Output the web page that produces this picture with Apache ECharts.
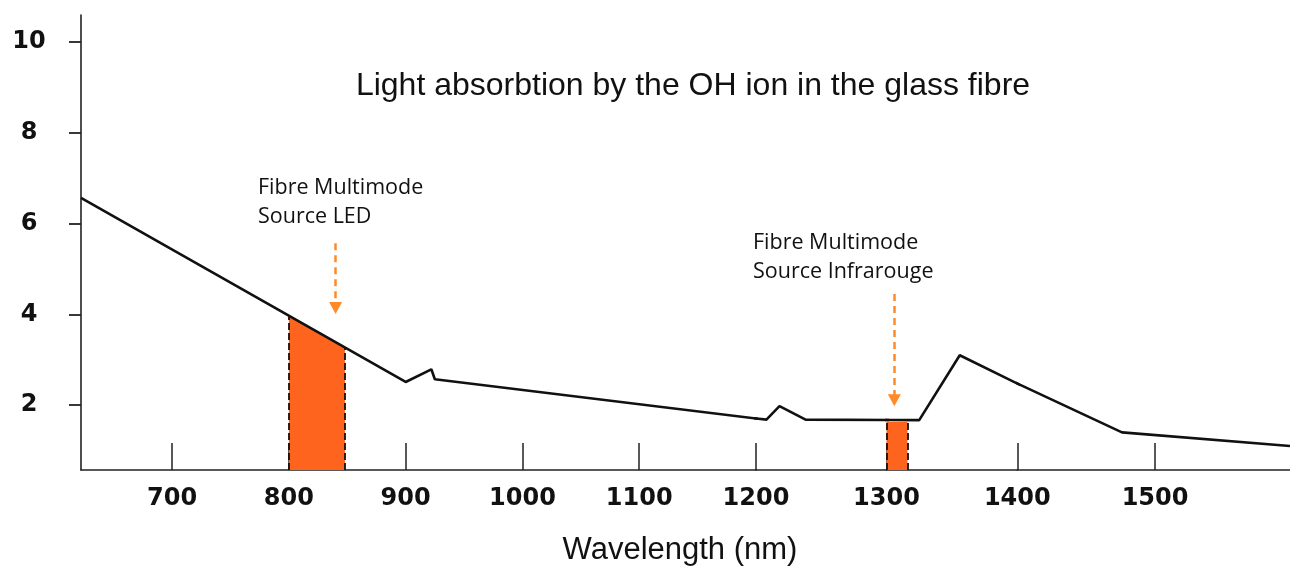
<!DOCTYPE html>
<html><head><meta charset="utf-8">
<script src="https://cdn.jsdelivr.net/npm/echarts@6/dist/echarts.min.js"></script>
<style>html,body{margin:0;padding:0;background:#fff}#c{width:1290px;height:568px}</style>
</head><body><div id="c"></div>
<script>
// ---- data (wavelength in nm, attenuation) ----
const wavelengths = [622, 900, 922, 925, 1208, 1218, 1238, 1325, 1356, 1476, 1598];
const attenuation = [6.57, 2.51, 2.79, 2.57, 1.68, 1.98, 1.68, 1.67, 3.10, 1.40, 1.10];
const ledBandWl = [800, 848];
const ledBandTop = [3.96, 3.26];
const irBandWl = [1300, 1316];
const irBandTop = [1.63, 1.63];
const xTickValues = [700, 800, 900, 1000, 1100, 1200, 1300, 1400, 1500];
const yTickValues = [2, 4, 6, 8, 10];
const ledArrow = { wl: 840, from: 5.57, to: 4.14 };
const irArrow = { wl: 1306, from: 4.45, to: 2.11 };
const titleText = 'Light absorbtion by the OH ion in the glass fibre';
const xAxisName = 'Wavelength (nm)';
const ledNote = ['Fibre Multimode', 'Source LED'];
const irNote = ['Fibre Multimode', 'Source Infrarouge'];

// ---- layout: the reference's wavelength axis is drawn piecewise ----
const Y_MIN = 0.57, Y_MAX = 10.6;
const segments = [
  { min: 622, max: 1200, left: 81, right: 756 },
  { min: 1200, max: 1300, left: 756, right: 886.5 },
  { min: 1300, max: 1400, left: 886.5, right: 1017.3 },
  { min: 1400, max: 1598, left: 1017.3, right: 1290 }
];
const GRID_TOP = 15, GRID_H = 455;
const AXIS_COLOR = '#222';
const tickFont = 'DejaVu Sans';
const BAND_COLOR = '#FF641E';
const ARROW_COLOR = '#FF8A2A';

const curve = wavelengths.map((w, i) => [w, attenuation[i]]);

const grids = [], xAxes = [], yAxes = [], series = [];
segments.forEach((s, i) => {
  grids.push({ left: s.left, top: GRID_TOP, width: s.right - s.left, height: GRID_H, outerBoundsMode: 'none', containLabel: false });
  const last = i === segments.length - 1;
  const ticks = xTickValues.filter(v => v >= s.min && (last ? v <= s.max : v < s.max));
  xAxes.push({
    type: 'value', gridIndex: i, min: s.min, max: s.max,
    axisLine: { show: true, lineStyle: { color: AXIS_COLOR, width: 1.6 } },
    axisTick: { show: ticks.length > 0, inside: true, length: 27, lineStyle: { color: AXIS_COLOR, width: 1.5 }, customValues: ticks },
    axisLabel: { show: ticks.length > 0, customValues: ticks, formatter: v => String(v), margin: 17, color: '#111', fontFamily: tickFont, fontWeight: 'bold', fontSize: 24, showMinLabel: true, showMaxLabel: true },
    splitLine: { show: false }
  });
  yAxes.push(i === 0 ? {
    type: 'value', gridIndex: 0, min: Y_MIN, max: Y_MAX,
    axisLine: { show: true, lineStyle: { color: AXIS_COLOR, width: 1.6 } },
    axisTick: { show: true, length: 12, lineStyle: { color: AXIS_COLOR, width: 1.8 }, customValues: yTickValues },
    axisLabel: { customValues: yTickValues, formatter: v => String(v), align: 'center', margin: 52, color: '#111', fontFamily: tickFont, fontWeight: 'bold', fontSize: 24 },
    splitLine: { show: false }
  } : { type: 'value', gridIndex: i, min: Y_MIN, max: Y_MAX, show: false, splitLine: { show: false } });
  series.push({
    type: 'line', xAxisIndex: i, yAxisIndex: i, data: curve, symbol: 'none', clip: true, z: 5,
    lineStyle: { color: '#111', width: 2.6 }, animation: false, silent: true
  });
});

function bandSeries(gi, wl, top, arrow) {
  return {
    type: 'line', xAxisIndex: gi, yAxisIndex: gi, z: 3, symbol: 'none', silent: true, animation: false,
    data: wl.map((w, k) => [w, top[k]]),
    lineStyle: { width: 0 },
    areaStyle: { color: BAND_COLOR, opacity: 1, origin: 'start' },
    markLine: {
      silent: true, animation: false, symbol: ['none', 'none'], label: { show: false },
      data: [
        [{ coord: [wl[0], Y_MIN], lineStyle: { color: '#111', width: 1.8, type: [7, 3] } }, { coord: [wl[0], top[0]] }],
        [{ coord: [wl[1], Y_MIN], lineStyle: { color: '#111', width: 1.8, type: [7, 3] } }, { coord: [wl[1], top[1]] }],
        [{ coord: [arrow.wl, arrow.from], symbol: 'none', lineStyle: { color: ARROW_COLOR, width: 2.5, type: [7, 5] } },
         { coord: [arrow.wl, arrow.to], symbol: 'triangle', symbolSize: [13, 12] }]
      ]
    }
  };
}
series.push(bandSeries(0, ledBandWl, ledBandTop, ledArrow));
series.push(bandSeries(2, irBandWl, irBandTop, irArrow));

const textFont = '21.5px "Open Sans", "Noto Sans", sans-serif';
const bigFont = '31px "Liberation Sans", Arial, sans-serif';
function txt(x, y, text, font, align) {
  return { type: 'text', x: x, y: y, silent: true, z: 10,
    style: { text: text, font: font, fill: '#111', align: align || 'left', verticalAlign: 'middle' } };
}

const chart = echarts.init(document.getElementById('c'), null, { renderer: 'canvas' });
chart.setOption({
  animation: false,
  backgroundColor: '#fff',
  grid: grids, xAxis: xAxes, yAxis: yAxes, series: series,
  graphic: [
    txt(693, 86, titleText, '32px "Liberation Sans", Arial, sans-serif', 'center'),
    txt(680, 550, xAxisName, bigFont, 'center'),
    txt(258, 188, ledNote[0], textFont), txt(258, 217, ledNote[1], textFont),
    txt(753, 243, irNote[0], textFont), txt(753, 272, irNote[1], textFont)
  ]
});
</script></body></html>
